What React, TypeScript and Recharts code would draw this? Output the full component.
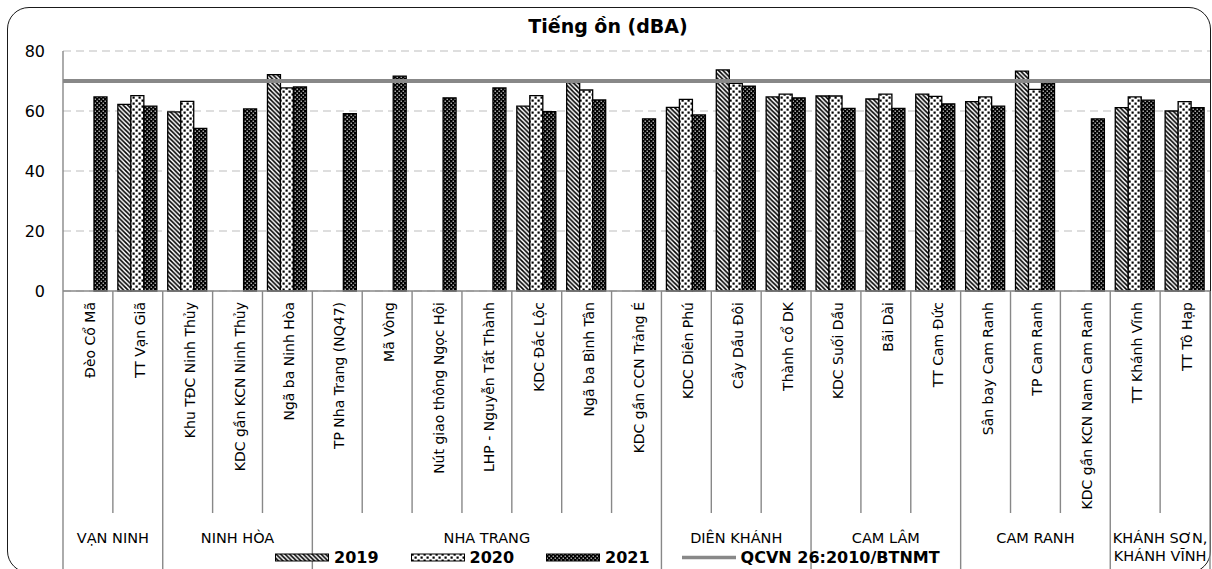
import { BarChart, Bar, XAxis, YAxis, CartesianGrid, ReferenceLine } from "recharts";

const sites = [
  "Đèo Cổ Mã",
  "TT Vạn Giã",
  "Khu TĐC Ninh Thủy",
  "KDC gần KCN Ninh Thủy",
  "Ngã ba Ninh Hòa",
  "TP Nha Trang (NQ47)",
  "Mã Vòng",
  "Nút giao thông Ngọc Hội",
  "LHP - Nguyễn Tất Thành",
  "KDC Đắc Lộc",
  "Ngã ba Bình Tân",
  "KDC gần CCN Trảng É",
  "KDC Diên Phú",
  "Cây Dầu Đôi",
  "Thành cổ DK",
  "KDC Suối Dầu",
  "Bãi Dài",
  "TT Cam Đức",
  "Sân bay Cam Ranh",
  "TP Cam Ranh",
  "KDC gần KCN Nam Cam Ranh",
  "TT Khánh Vĩnh",
  "TT Tô Hạp",
];

const districts = ["VẠN NINH", "NINH HÒA", "NHA TRANG", "DIÊN KHÁNH", "CAM LÂM", "CAM RANH", "KHÁNH SƠN,|KHÁNH VĨNH"];
const districtSizes = [2, 3, 7, 3, 3, 3, 2];

const y2019 = [null, 62.2, 59.7, null, 72.1, null, null, null, null, 61.6, 69.5, null, 61.2, 73.7, 64.7, 65.0, 64.0, 65.6, 63.1, 73.3, null, 61.1, 60.0];
const y2020 = [null, 65.1, 63.2, null, 67.7, null, null, null, null, 65.1, 67.0, null, 63.9, 69.2, 65.6, 65.0, 65.6, 64.9, 64.7, 67.2, null, 64.7, 63.1];
const y2021 = [64.7, 61.6, 54.2, 60.7, 68.0, 59.1, 71.6, 64.4, 67.7, 59.8, 63.7, 57.4, 58.7, 68.3, 64.4, 60.9, 60.9, 62.4, 61.6, 69.3, 57.4, 63.6, 61.1];

const QCVN = 70;
const yTicks = [0, 20, 40, 60, 80];

const data = sites.map((name, i) => ({ name, y2019: y2019[i], y2020: y2020[i], y2021: y2021[i] }));

// first category index of every district
const groupStarts = districtSizes.map((_, i) => districtSizes.slice(0, i).reduce((a, b) => a + b, 0));

const FONT = "'DejaVu Sans', Verdana, sans-serif";
const SEP = "#888888";

function SiteTick(props: any) {
  const { x, y, payload, index } = props;
  const half = payload?.offset || 24.9;
  const left = x - half;
  const g = groupStarts.indexOf(index);
  const isLast = index === sites.length - 1;
  let groupLabel = null;
  if (g >= 0) {
    const cx = left + districtSizes[g] * half;
    const lines = districts[g].split("|");
    groupLabel = (
      <text x={cx} y={y + 252} textAnchor="middle" fontSize={14.5} fill="#000" fontFamily={FONT}>
        {lines.map((l, k) => (
          <tspan key={k} x={cx} dy={k === 0 ? 0 : 18}>
            {l}
          </tspan>
        ))}
      </text>
    );
  }
  return (
    <g>
      <line x1={left} x2={left} y1={y} y2={g >= 0 ? y + 290 : y + 222} stroke={SEP} strokeWidth={1.4} />
      {isLast && <line x1={x + half} x2={x + half} y1={y} y2={y + 290} stroke={SEP} strokeWidth={1.4} />}
      <text
        transform={`translate(${x + 7},${y + 11}) rotate(-90)`}
        textAnchor="end"
        fontSize={14}
        fill="#000"
        fontFamily={FONT}
      >
        {payload.value}
      </text>
      {groupLabel}
    </g>
  );
}

function Swatch({ fill }: { fill: string }) {
  return (
    <svg width={54} height={9} style={{ display: "block" }}>
      <rect x={0.5} y={1} width={53} height={7} fill={fill} stroke="#000" strokeWidth={1} />
    </svg>
  );
}

export default function App() {
  const legendItems = [
    { label: "2019", fill: "url(#p2019)" },
    { label: "2020", fill: "url(#p2020)" },
    { label: "2021", fill: "url(#p2021)" },
  ];
  return (
    <div
      style={{
        position: "absolute",
        left: 0,
        top: 0,
        width: 1212,
        height: 569,
        overflow: "hidden",
        background: "#fff",
        fontFamily: FONT,
      }}
    >
      <div
        style={{
          position: "absolute",
          left: 7,
          top: 7,
          width: 1204,
          height: 566,
          boxSizing: "border-box",
          border: "1.4px solid #1a1a1a",
          borderRadius: 22,
        }}
      />
      <div
        style={{
          position: "absolute",
          left: 0,
          width: 1212,
          top: 15,
          textAlign: "center",
          fontWeight: "bold",
          fontSize: 19,
          color: "#000",
          paddingLeft: 2,
        }}
      >
        Tiếng ồn (dBA)
      </div>
      <div style={{ position: "absolute", left: 0, top: 0 }}>
        <BarChart
          width={1212}
          height={569}
          data={data}
          margin={{ top: 51, right: 2, bottom: 0, left: 0 }}
          barCategoryGap="10%"
          barGap={0}
        >
          <defs>
            <pattern id="p2019" patternUnits="userSpaceOnUse" width={4.5} height={4.5}>
              <rect width={4.5} height={4.5} fill="#fff" />
              <path d="M-1,-1 L5.5,5.5 M-1,3.5 L1,5.5 M3.5,-1 L5.5,1" stroke="#000" strokeWidth={1.6} />
            </pattern>
            <pattern id="p2020" patternUnits="userSpaceOnUse" width={6} height={6}>
              <rect width={6} height={6} fill="#fff" />
              <rect x={0.5} y={0.5} width={2.2} height={2.2} fill="#000" />
              <rect x={3.5} y={3.5} width={2.2} height={2.2} fill="#000" />
            </pattern>
            <pattern id="p2021" patternUnits="userSpaceOnUse" width={4} height={4}>
              <rect width={4} height={4} fill="#000" />
              <rect x={0.6} y={0.6} width={1.2} height={1.2} fill="#fff" />
              <rect x={2.6} y={2.6} width={1.2} height={1.2} fill="#fff" />
            </pattern>
          </defs>
          <CartesianGrid vertical={false} stroke="#d4d4d4" strokeDasharray="8 5" strokeWidth={1.3} />
          <XAxis
            dataKey="name"
            interval={0}
            height={278}
            tick={<SiteTick />}
            tickLine={false}
            tickSize={0}
            tickMargin={0}
            axisLine={{ stroke: SEP, strokeWidth: 1.4 }}
          />
          <YAxis
            width={63}
            domain={[0, 80]}
            ticks={yTicks}
            tickLine={false}
            tickSize={0}
            tickMargin={18}
            axisLine={{ stroke: SEP, strokeWidth: 1.4 }}
            tick={{ fill: "#000", fontSize: 16, fontFamily: FONT }}
          />
          <Bar dataKey="y2019" fill="url(#p2019)" stroke="#000" strokeWidth={1.3} isAnimationActive={false} />
          <Bar dataKey="y2020" fill="url(#p2020)" stroke="#000" strokeWidth={1.3} isAnimationActive={false} />
          <Bar dataKey="y2021" fill="url(#p2021)" stroke="#000" strokeWidth={1.3} isAnimationActive={false} />
          <ReferenceLine y={QCVN} stroke="#888888" strokeWidth={4} />
        </BarChart>
      </div>
      <div
        style={{
          position: "absolute",
          left: 275,
          top: 547,
          height: 20,
          display: "flex",
          alignItems: "center",
          gap: 32,
          fontWeight: "bold",
          fontSize: 16,
          color: "#000",
        }}
      >
        {legendItems.map((it) => (
          <div key={it.label} style={{ display: "flex", alignItems: "center", gap: 5 }}>
            <Swatch fill={it.fill} />
            <span>{it.label}</span>
          </div>
        ))}
        <div style={{ display: "flex", alignItems: "center", gap: 5 }}>
          <svg width={54} height={9} style={{ display: "block" }}>
            <line x1={0} x2={54} y1={4.5} y2={4.5} stroke="#888888" strokeWidth={3.5} />
          </svg>
          <span>QCVN 26:2010/BTNMT</span>
        </div>
      </div>
    </div>
  );
}
